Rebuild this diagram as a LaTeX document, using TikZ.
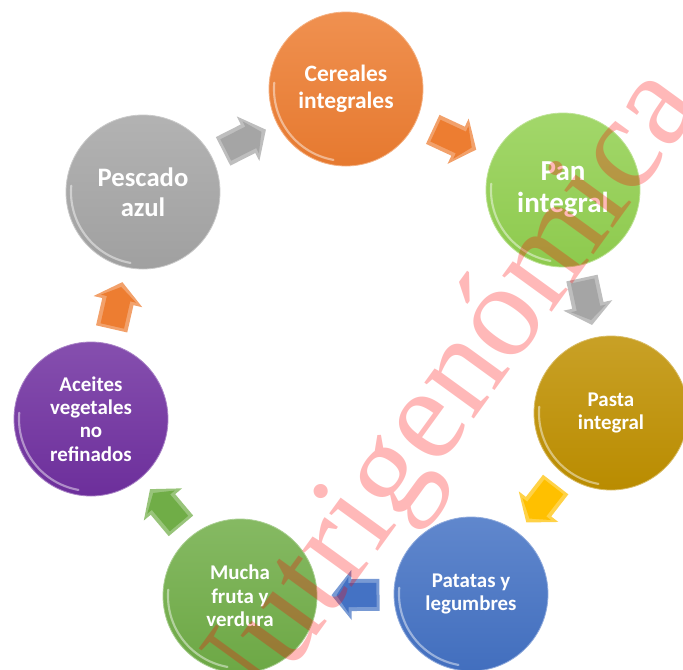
\documentclass[tikz,border=0pt]{standalone}
\usepackage{fontspec}
\setmainfont{Carlito}
\newfontfamily\markfont{Liberation Serif}
\usetikzlibrary{calc}
\definecolor{cerealorange}{RGB}{237,125,49}
\definecolor{pangreen}{RGB}{146,208,80}
\definecolor{pastagold}{RGB}{191,144,0}
\definecolor{patatablue}{RGB}{68,114,196}
\definecolor{frutagreen}{RGB}{112,173,71}
\definecolor{aceitepurple}{RGB}{112,48,160}
\definecolor{pescadogray}{RGB}{165,165,165}
\definecolor{arrowyellow}{RGB}{255,192,0}
\tikzset{ball/.style = {circle, minimum size=115.5pt, inner sep=0pt,
                        top color=#1!85!white, bottom color=#1!97!black,
                        draw=#1!60!white, line width=0.6pt,
                        text=white, align=center},
         gloss/.style = {white, opacity=0.45, line width=1.6pt, line cap=round},
         watermark/.style = {font=\markfont\fontsize{100}{100}\selectfont,
                             text=red, text opacity=0.28, rotate=54,
                             anchor=base, inner sep=0pt},
         pics/blockarrow/.style = {code={
           \fill[#1!72!white] (-24, -16) -- (4, -16) -- (4, -25) -- (24, 0)
                 -- (4, 25) -- (4, 16) -- (-24, 16) -- cycle;
           \fill[#1] (-21, -12) -- (7, -12) -- (7, -18) -- (19, 0)
                 -- (7, 18) -- (7, 12) -- (-21, 12) -- cycle;}}}
\begin{document}
\begin{tikzpicture}[x=0.75pt, y=-0.75pt]
      \useasboundingbox (0, 0) rectangle (683, 669);
      \clip (0, 0) rectangle (683, 669);
      \node [ball=cerealorange, font=\bfseries\fontsize{17.6}{20}\selectfont]
            (cereales) at (346, 89) {Cereales\\integrales};
      \node [ball=pangreen, font=\bfseries\fontsize{21.75}{24}\selectfont]
            (pan) at (563, 190) {Pan\\integral};
      \node [ball=pastagold, font=\bfseries\fontsize{15.7}{17.5}\selectfont]
            (pasta) at (611, 413) {Pasta\\integral};
      \node [ball=patatablue, font=\bfseries\fontsize{15.7}{17.5}\selectfont]
            (patatas) at (471, 594) {Patatas y\\legumbres};
      \node [ball=frutagreen, font=\bfseries\fontsize{15.7}{17.5}\selectfont]
            (fruta) at (240, 596) {Mucha\\fruta y\\verdura};
      \node [ball=aceitepurple, font=\bfseries\fontsize{15.7}{17.5}\selectfont]
            (aceites) at (91, 419) {Aceites\\vegetales\\no\\refinados};
      \node [ball=pescadogray, font=\bfseries\fontsize{20}{22.5}\selectfont]
            (pescado) at (143, 192) {Pescado\\azul};
      \foreach \n in {cereales, pan, pasta, patatas, fruta, aceites, pescado}
        \draw [gloss] (\n.center) ++(100:72) arc [start angle=100, end angle=185, radius=72];
      \path (pescado) -- (cereales) pic [pos=0.5, sloped, allow upside down] {blockarrow=pescadogray};
      \path (cereales) -- (pan) pic [pos=0.5, sloped, allow upside down] {blockarrow=cerealorange};
      \path (pan) -- (pasta) pic [pos=0.5, sloped, allow upside down] {blockarrow=pescadogray};
      \path (pasta) -- (patatas) pic [pos=0.5, sloped, allow upside down] {blockarrow=arrowyellow};
      \path (patatas) -- (fruta) pic [pos=0.5, sloped, allow upside down] {blockarrow=patatablue};
      \path (fruta) -- (aceites) pic [pos=0.5, sloped, allow upside down] {blockarrow=frutagreen};
      \path (aceites) -- (pescado) pic [pos=0.5, sloped, allow upside down] {blockarrow=cerealorange};
      \node [watermark] (nutri) at (468, 428) {Nutrigenómica};
    \end{tikzpicture}
\end{document}
